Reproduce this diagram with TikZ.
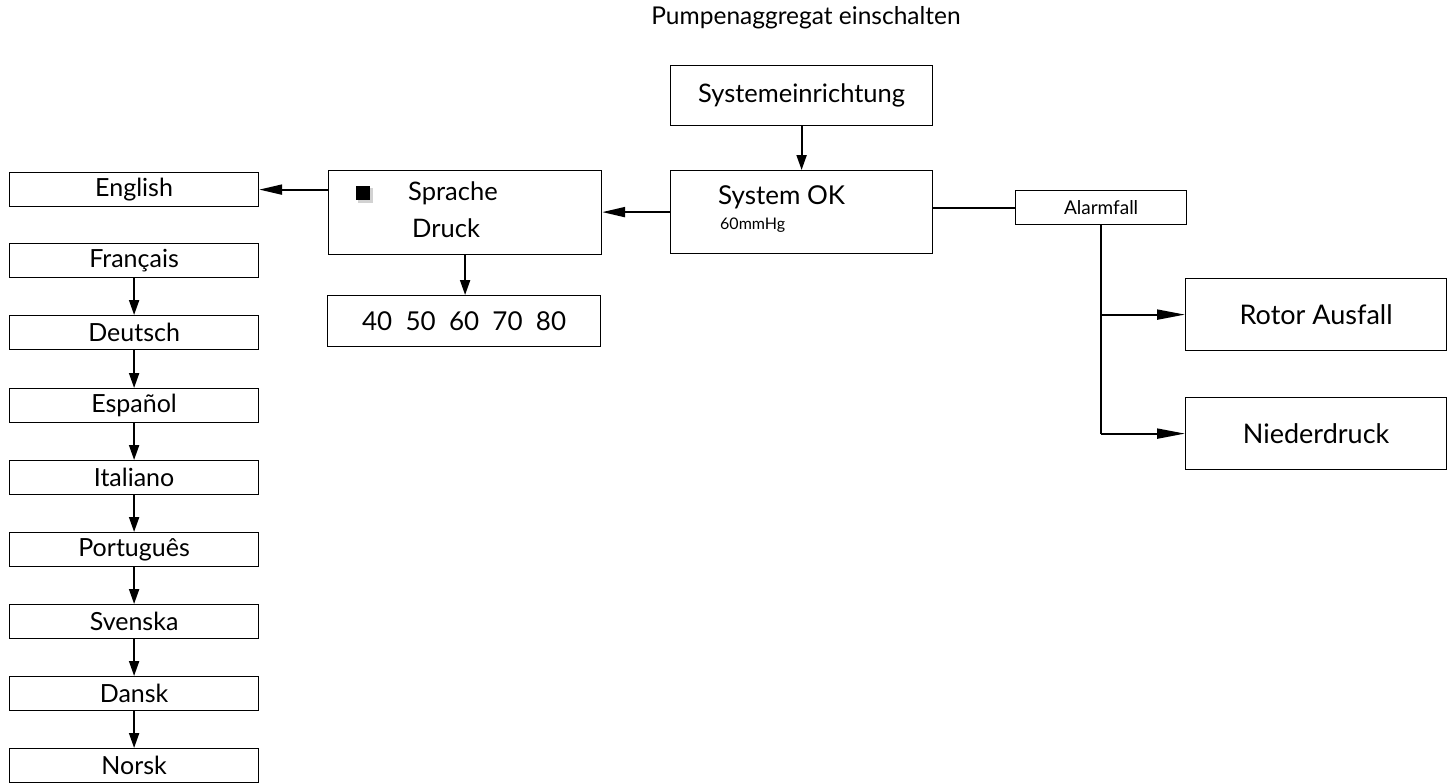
\documentclass[tikz,border=0pt]{standalone}
\usepackage{fontspec}
\setmainfont{Lato}
\usetikzlibrary{arrows.meta}
\begin{document}
\begin{tikzpicture}[
			x=1pt, y=-1pt,
			box/.style={draw, line width=1.2pt, inner sep=0pt, anchor=north west},
			lang/.style={box, minimum width=249pt, minimum height=34pt, font=\fontsize{25}{27}\selectfont},
			txt/.style={inner sep=0pt, font=\fontsize{26}{28}\selectfont},
			link/.style={line width=2pt},
			harrow/.style={link, -{Triangle[length=23pt, width=10pt]}},
			varrow/.style={link, -{Triangle[length=15pt, width=10pt]}}
		]
		\useasboundingbox (0,0) rectangle (1453,782);
		% title
		\node[txt, font=\fontsize{24.5}{26}\selectfont] (title) at (806,18) {Pumpenaggregat einschalten};
		% main chain
		\node[box, minimum width=262pt, minimum height=60pt, font=\fontsize{25.5}{27}\selectfont] (setup) at (670,65) {Systemeinrichtung};
		\node[box, minimum width=262pt, minimum height=83pt] (sysok) at (670,170) {};
		\node[txt, anchor=west] (oktext) at (718,197) {System OK};
		\node[txt, anchor=west, font=\fontsize{16}{18}\selectfont] (mmhg) at (720,225) {60mmHg};
		\node[box, minimum width=273pt, minimum height=84pt] (sprache) at (328,170) {};
		\fill[gray!35] (358,188) rectangle (373,203);
		\fill[black] (356,186) rectangle (370,200);
		\node[txt, anchor=west, font=\fontsize{25.5}{27}\selectfont] (spr) at (408,193) {Sprache};
		\node[txt, anchor=west, font=\fontsize{25.5}{27}\selectfont] (druck) at (412,228) {Druck};
		\node[box, minimum width=273pt, minimum height=51pt, font=\fontsize{26}{28}\selectfont] (werte) at (327,295) {40~~50~~60~~70~~80};
		% alarms
		\node[box, minimum width=171pt, minimum height=34pt, font=\fontsize{19}{21}\selectfont] (alarm) at (1015,190) {Alarmfall};
		\node[box, minimum width=261pt, minimum height=72pt, font=\fontsize{27}{29}\selectfont] (rotor) at (1185,278) {Rotor Ausfall};
		\node[box, minimum width=261pt, minimum height=72pt, font=\fontsize{27}{29}\selectfont] (nieder) at (1185,397) {Niederdruck};
		% languages
		\node[lang] (english) at (9,172) {English};
		\node[lang] (fr) at (9,243) {Français};
		\node[lang] (de) at (9,315) {Deutsch};
		\node[lang] (es) at (9,388) {Español};
		\node[lang] (it) at (9,460) {Italiano};
		\node[lang] (pt) at (9,532) {Português};
		\node[lang] (sv) at (9,604) {Svenska};
		\node[lang] (da) at (9,676) {Dansk};
		\node[lang] (no) at (9,748) {Norsk};
		% connectors
		\draw[varrow] (setup.south) -- (sysok.north);
		\draw[harrow] (sysok.west) -- (sysok.west -| sprache.east);
		\draw[harrow] (sprache.west |- english.east) -- (english.east);
		\draw[varrow] (sprache.south) -- (sprache.south |- werte.north);
		\draw[link] (alarm.west) -- (alarm.west -| sysok.east);
		\draw[link] (alarm.south) -- (alarm.south |- nieder.west);
		\draw[harrow, -{Triangle[length=28pt, width=10pt]}] (alarm.south |- rotor.west) -- (rotor.west);
		\draw[harrow, -{Triangle[length=28pt, width=10pt]}] (alarm.south |- nieder.west) -- (nieder.west);
		\draw[varrow] (fr) -- (de);
		\draw[varrow] (de) -- (es);
		\draw[varrow] (es) -- (it);
		\draw[varrow] (it) -- (pt);
		\draw[varrow] (pt) -- (sv);
		\draw[varrow] (sv) -- (da);
		\draw[varrow] (da) -- (no);
\end{tikzpicture}
\end{document}
